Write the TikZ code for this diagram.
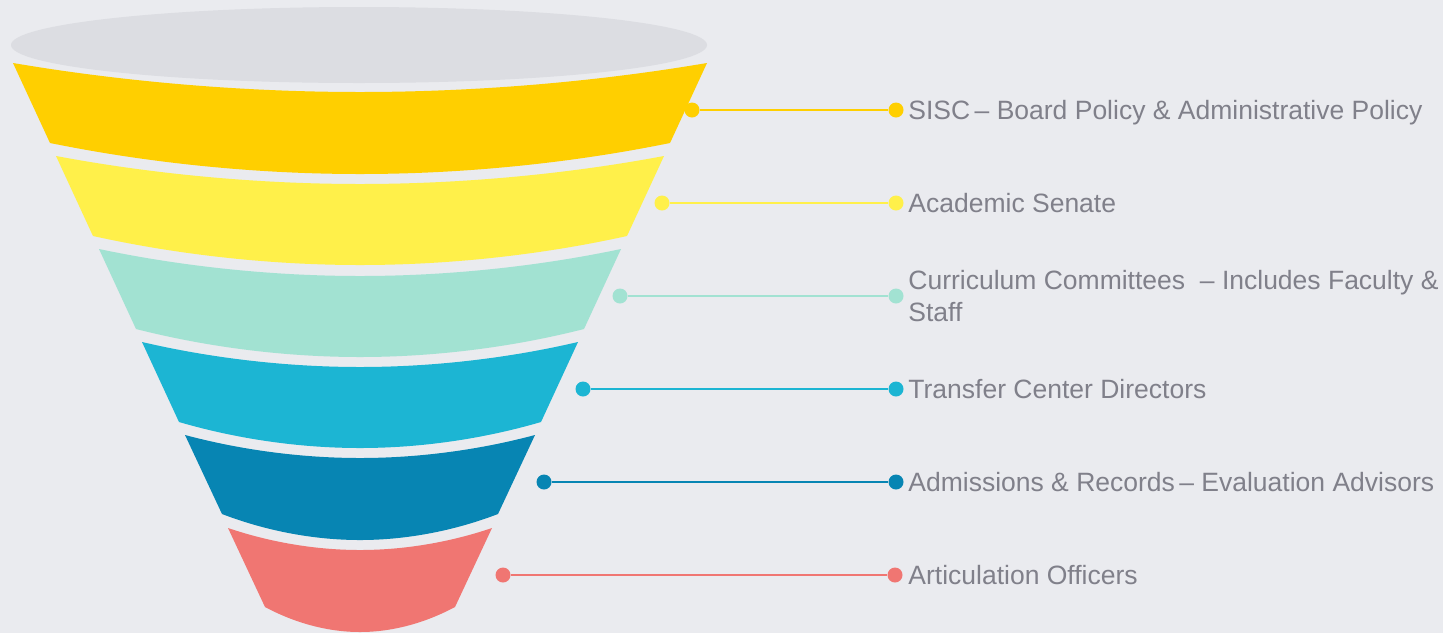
\documentclass[tikz,border=0pt]{standalone}
\usepackage{fontspec}
\setmainfont{Liberation Sans}
\usepackage{xcolor}
\usepackage{tikz}
\usetikzlibrary{positioning}
\definecolor{bgcol}{RGB}{234,235,239}
\definecolor{rimcol}{RGB}{220,221,226}
\definecolor{gold}{RGB}{255,207,0}
\definecolor{lemon}{RGB}{255,240,74}
\definecolor{mint}{RGB}{162,226,210}
\definecolor{aqua}{RGB}{28,181,211}
\definecolor{ocean}{RGB}{7,133,179}
\definecolor{salmon}{RGB}{240,118,114}
\definecolor{textgray}{RGB}{128,128,138}
\tikzset{
  dot/.style={circle,fill=#1,inner sep=0pt,minimum size=7.5pt},
  link/.style={draw=#1,line width=1pt},
  lbl/.style={text=textgray,inner sep=0pt,anchor=base west,
    font=\fontsize{13.25}{16}\selectfont}
}

\begin{document}
\begin{tikzpicture}[x=0.5pt,y=-0.5pt]
\fill [bgcol] (0,0) rectangle (1443,633);
\useasboundingbox (0,0) rectangle (1443,633);

% rim of the funnel
\fill [rimcol] (359,45) ellipse [x radius=348, y radius=38];

% bands
\fill [gold] (13,63) parabola bend (360,92) (707,63) -- (670,143) parabola bend (360,174) (50,143) -- cycle;
\fill [lemon] (56,156) parabola bend (360,184) (664,156) -- (627,236) parabola bend (360,265) (93,236) -- cycle;
\fill [mint] (99,249) parabola bend (360,276) (621,249) -- (584,329) parabola bend (360,357) (136,329) -- cycle;
\fill [aqua] (142,342) parabola bend (360,367) (578,342) -- (541,422) parabola bend (360,448) (179,422) -- cycle;
\fill [ocean] (185,435) parabola bend (360,458) (535,435) -- (498,514) parabola bend (360,540) (222,514) -- cycle;
\fill [salmon] (228,528) parabola bend (360,550) (492,528) -- (455,607) parabola bend (360,632) (265,607) -- cycle;

% connectors
\node [dot=gold] (g1) at (692,110) {};
\node [dot=gold] (g2) at (896,110) {};
\draw [link=gold] (g1) -- (g2);
\node [lbl] (sisc) at (908,119.5) {SISC\,– Board Policy \& Administrative Policy};

\node [dot=lemon] (y1) at (662,203) {};
\node [dot=lemon] (y2) at (896,203) {};
\draw [link=lemon] (y1) -- (y2);
\node [lbl] (senate) at (908,212.5) {Academic Senate};

\node [dot=mint] (m1) at (620,296) {};
\node [dot=mint] (m2) at (896,296) {};
\draw [link=mint] (m1) -- (m2);
\node [lbl,anchor=west,align=left] (curric) at (908,296) {Curriculum Committees\ \ – Includes Faculty \&\\Staff};

\node [dot=aqua] (a1) at (583,389) {};
\node [dot=aqua] (a2) at (896,389) {};
\draw [link=aqua] (a1) -- (a2);
\node [lbl] (transfer) at (908,398.5) {Transfer Center Directors};

\node [dot=ocean] (o1) at (544,482) {};
\node [dot=ocean] (o2) at (896,482) {};
\draw [link=ocean] (o1) -- (o2);
\node [lbl] (records) at (908,491.5) {Admissions \& Records\,– Evaluation Advisors};

\node [dot=salmon] (s1) at (503,575) {};
\node [dot=salmon] (s2) at (895,575) {};
\draw [link=salmon] (s1) -- (s2);
\node [lbl] (artic) at (908,584.5) {Articulation Officers};
\end{tikzpicture}
\end{document}
